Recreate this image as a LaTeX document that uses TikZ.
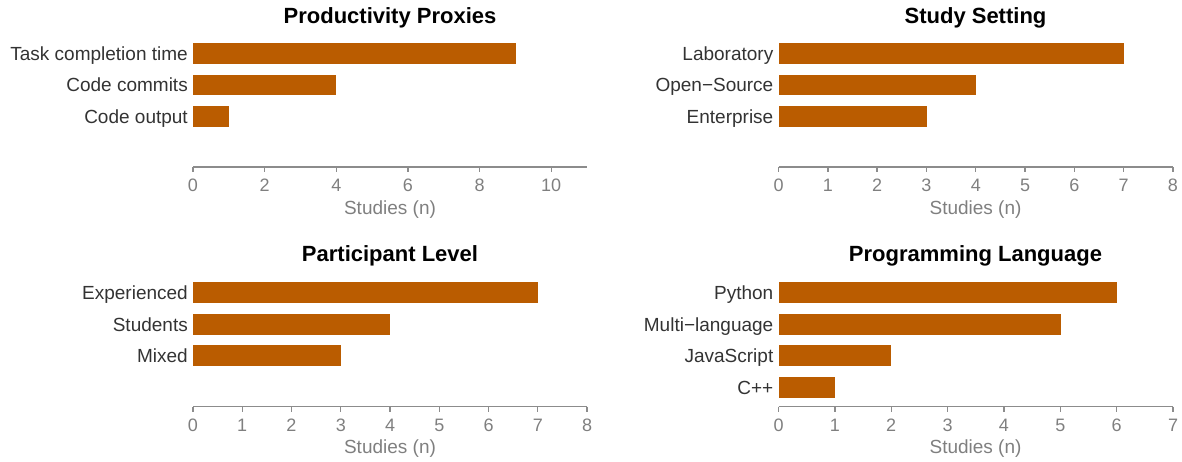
\documentclass[tikz,border=0pt]{standalone}
\usepackage{fontspec}
\setmainfont{Liberation Sans}
\usepackage{tikz}
\usetikzlibrary{positioning}
\definecolor{barcol}{HTML}{BA5C00}
\definecolor{labelcol}{HTML}{333333}
\definecolor{tickcol}{HTML}{7F7F7F}
\definecolor{axiscol}{HTML}{8C8C8C}
\tikzstyle{bar} = [rectangle, fill=barcol, inner sep=0pt, minimum height=20.6pt, anchor=west]
\tikzstyle{category} = [text=labelcol, font=\fontsize{19}{22}\selectfont, inner sep=0pt, text height=13.6pt, text depth=0pt, node distance=5pt]
\tikzstyle{ticklabel} = [text=tickcol, font=\fontsize{18}{21}\selectfont, inner sep=0pt, anchor=base]
\tikzstyle{axistitle} = [text=tickcol, font=\fontsize{19}{22}\selectfont, inner sep=0pt, anchor=base]
\tikzstyle{paneltitle} = [font=\bfseries\fontsize{22}{26}\selectfont, inner sep=0pt, anchor=base]
\tikzstyle{axis} = [draw=axiscol, line width=1.4pt]

\begin{document}
\begin{tikzpicture}[x=1pt, y=-1pt]
    \useasboundingbox (0,0) rectangle (1182,462);

    % productivity proxies
    \node [paneltitle] (proxytitle) at (390,23.3) {Productivity Proxies};
    \node [bar, minimum width=9*35.82pt] (task) at (193,53.5) {};
    \node [bar, minimum width=4*35.82pt] (commits) at (193,85) {};
    \node [bar, minimum width=1*35.82pt] (output) at (193,116.5) {};
    \node [category, left=of task] (tasklabel) {Task completion time};
    \node [category, left=of commits] (commitslabel) {Code commits};
    \node [category, left=of output] (outputlabel) {Code output};
    \draw [axis] (193,167.2) -- (587,167.2);
    \foreach \v in {0,2,...,10} {
        \draw [axis] (193+\v*35.82,167.2) -- ++(0,5);
        \node [ticklabel] (proxytick\v) at (193+\v*35.82,192) {\v};
    }
    \node [axistitle] (proxyaxis) at (390,214.3) {Studies (n)};

    % study setting
    \node [paneltitle] (settingtitle) at (975.5,23.3) {Study Setting};
    \node [bar, minimum width=7*49.31pt] (lab) at (778.5,53.5) {};
    \node [bar, minimum width=4*49.31pt] (opensource) at (778.5,85) {};
    \node [bar, minimum width=3*49.31pt] (enterprise) at (778.5,116.5) {};
    \node [category, left=of lab] (lablabel) {Laboratory};
    \node [category, left=of opensource] (opensourcelabel) {Open−Source};
    \node [category, left=of enterprise] (enterpriselabel) {Enterprise};
    \draw [axis] (778.5,167.2) -- (1173,167.2);
    \foreach \v in {0,...,8} {
        \draw [axis] (778.5+\v*49.31,167.2) -- ++(0,5);
        \node [ticklabel] (settingtick\v) at (778.5+\v*49.31,192) {\v};
    }
    \node [axistitle] (settingaxis) at (975.5,214.3) {Studies (n)};

    % participant level
    \node [paneltitle] (leveltitle) at (390,261.7) {Participant Level};
    \node [bar, minimum width=7*49.25pt] (experienced) at (193,292.7) {};
    \node [bar, minimum width=4*49.25pt] (students) at (193,324.2) {};
    \node [bar, minimum width=3*49.25pt] (mixed) at (193,355.7) {};
    \node [category, left=of experienced] (experiencedlabel) {Experienced};
    \node [category, left=of students] (studentslabel) {Students};
    \node [category, left=of mixed] (mixedlabel) {Mixed};
    \draw [axis] (193,406.5) -- (587,406.5);
    \foreach \v in {0,...,8} {
        \draw [axis] (193+\v*49.25,406.5) -- ++(0,5);
        \node [ticklabel] (leveltick\v) at (193+\v*49.25,431.3) {\v};
    }
    \node [axistitle] (levelaxis) at (390,453.6) {Studies (n)};

    % programming language
    \node [paneltitle] (langtitle) at (975.5,261.7) {Programming Language};
    \node [bar, minimum width=6*56.36pt] (python) at (778.5,292.7) {};
    \node [bar, minimum width=5*56.36pt] (multi) at (778.5,324.2) {};
    \node [bar, minimum width=2*56.36pt] (javascript) at (778.5,355.7) {};
    \node [bar, minimum width=1*56.36pt] (cpp) at (778.5,387.2) {};
    \node [category, left=of python] (pythonlabel) {Python};
    \node [category, left=of multi] (multilabel) {Multi−language};
    \node [category, left=of javascript] (javascriptlabel) {JavaScript};
    \node [category, left=of cpp] (cpplabel) {C++};
    \draw [axis] (778.5,406.5) -- (1173,406.5);
    \foreach \v in {0,...,7} {
        \draw [axis] (778.5+\v*56.36,406.5) -- ++(0,5);
        \node [ticklabel] (langtick\v) at (778.5+\v*56.36,431.3) {\v};
    }
    \node [axistitle] (langaxis) at (975.5,453.6) {Studies (n)};
\end{tikzpicture}
\end{document}
